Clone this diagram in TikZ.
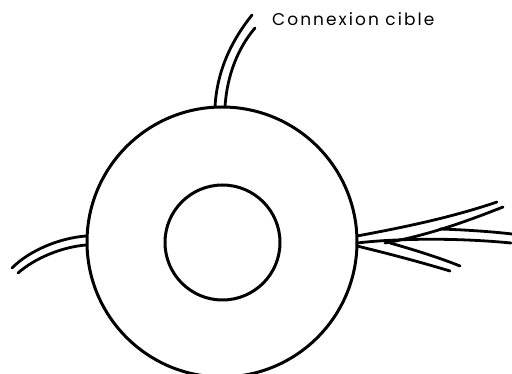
\documentclass[tikz,border=0pt]{standalone}
\usepackage{fontspec}
\newfontfamily\labelfont[LetterSpace=12]{Poppins}
\begin{document}
\begin{tikzpicture}[x=1pt,y=-1pt,
  ring/.style={draw=black,line width=3pt,circle,inner sep=0pt,outer sep=0pt},
  wire/.style={draw=black,line width=2.8pt,line cap=round}]
\useasboundingbox (0,0) rectangle (512,374);
\node[ring,minimum size=270pt] (outer) at (222,242) {};
\node[ring,minimum size=115pt] (inner) at (222.5,242.5) {};
\node[anchor=base west,inner sep=0pt,font=\labelfont\fontsize{17}{20}\selectfont] (lbl) at (272,26) {Connexion cible};
% top cable
\draw[wire] (215,107) .. controls (217,70) and (232,40) .. (252,15);
\draw[wire] (225,107) .. controls (227,75) and (238,48) .. (255,28);
% left cable
\draw[wire] (86,236) .. controls (60,238) and (30,250) .. (12,268);
\draw[wire] (86,245) .. controls (62,247) and (35,258) .. (18,273);
% right cable bundle
\draw[wire] (357,236) .. controls (400,228) and (450,218) .. (497,202);
\draw[wire] (385,243) .. controls (430,235) and (470,220) .. (503,207);
\draw[wire] (440,229) .. controls (470,230) and (495,232) .. (512,234);
\draw[wire] (357,243) .. controls (400,238) and (460,238) .. (511,243);
\draw[wire] (357,246) .. controls (390,254) and (420,262) .. (450,271);
\draw[wire] (390,243) .. controls (415,250) and (440,258) .. (460,266);
\end{tikzpicture}
\end{document}
